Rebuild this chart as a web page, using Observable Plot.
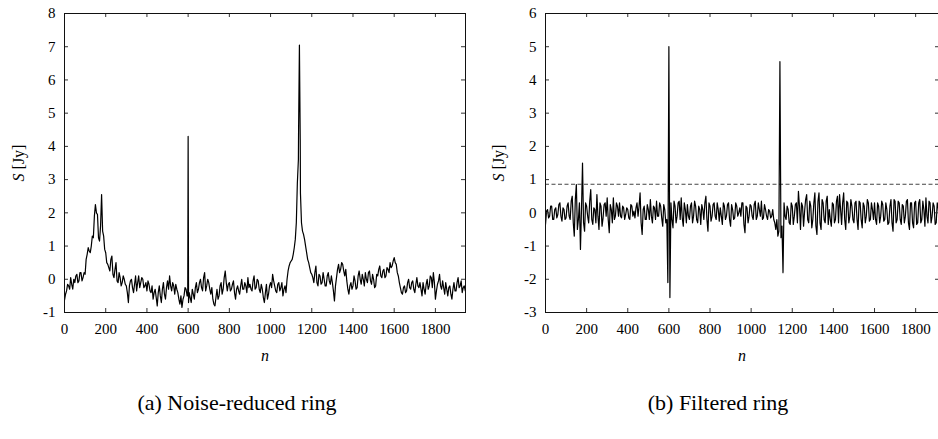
<!DOCTYPE html>
<html><head><meta charset="utf-8">
<script src="https://cdn.jsdelivr.net/npm/d3@7"></script>
<script src="https://cdn.jsdelivr.net/npm/@observablehq/plot@0.6"></script>
<style>
html body #wrap, html body #wrap *, html body #wrap svg text { font-family: 'Liberation Serif', 'Times New Roman', serif !important; }
</style>
</head><body style="margin:0;background:#fff;overflow:hidden;">
<div id="wrap" style="position:relative;width:938px;height:439px;overflow:hidden;background:#fff;"></div>
<script>
const step = 10; // spacing of the sampled n values (mid values sit half-way)
const leftValues = [
-0.63,-0.35,-0.2,0.05,-0.3,-0.1,0.15,-0.05,0.2,0.05,
0.15,0.75,0.85,1.0,1.25,2.25,1.95,1.15,2.55,1.3,
0.8,0.45,0.25,0.7,0.05,0.5,-0.1,0.05,-0.1,0.0,
-0.2,-0.7,-0.05,-0.25,-0.15,-0.35,0.1,-0.1,0.0,-0.2,
-0.35,-0.15,-0.4,-0.6,-0.3,-0.8,-0.2,-0.7,-0.1,-0.6,
-0.05,0.1,-0.35,-0.2,-0.15,-0.4,-0.75,-0.85,-0.5,-0.3,
4.3,-0.55,-0.3,-0.6,-0.1,-0.3,0.0,-0.35,0.2,-0.2,
-0.1,-0.45,-0.6,-0.8,-0.3,-0.5,-0.1,-0.3,0.25,-0.35,
-0.1,-0.3,-0.05,-0.6,-0.2,-0.45,0.0,-0.3,-0.2,0.05,
-0.15,-0.35,0.1,-0.25,-0.05,-0.4,-0.3,-0.7,-0.15,-0.45,
-0.1,0.15,-0.2,-0.4,-0.1,-0.25,-0.5,-0.2,0.0,0.4,
0.55,0.75,1.2,2.9,7.05,1.7,1.35,1.0,0.6,0.35,
0.15,-0.1,0.4,-0.2,0.1,-0.1,0.0,-0.2,0.2,-0.15,
-0.1,-0.65,0.05,0.45,0.3,0.45,0.1,-0.05,-0.45,-0.1,
-0.2,-0.05,-0.25,0.25,-0.15,0.0,0.2,-0.1,0.25,-0.15,
0.0,-0.2,0.1,0.4,0.05,0.3,0.1,0.3,0.5,0.4,
0.65,0.45,0.1,-0.25,-0.45,-0.2,-0.35,0.0,-0.3,-0.05,
-0.4,0.05,-0.25,-0.3,-0.1,-0.45,0.0,-0.2,0.05,0.2,
-0.6,-0.15,0.15,-0.3,-0.25,-0.1,-0.5,-0.2,-0.6,-0.1,
-0.35,0.05,-0.2,-0.4,-0.2
];
const leftMid = [
-0.45,-0.15,-0.3,-0.15,0.0,0.1,-0.1,0.2,-0.05,0.2,
0.6,0.95,0.8,1.3,1.9,2.0,1.25,1.6,1.45,0.9,
0.5,0.35,0.6,0.15,0.3,-0.05,0.2,-0.2,0.1,-0.15,
-0.4,-0.2,0.0,-0.4,0.1,-0.1,-0.25,0.05,-0.25,-0.1,
-0.05,-0.35,-0.2,-0.4,-0.55,-0.4,-0.5,-0.3,-0.45,-0.25,
-0.3,-0.2,-0.1,-0.45,-0.3,-0.6,-0.5,-0.6,-0.25,-0.5,
-0.4,-0.7,-0.45,-0.25,-0.4,-0.1,-0.25,0.05,-0.35,0.0,
-0.3,-0.25,-0.75,-0.55,-0.6,-0.2,-0.45,0.05,-0.1,-0.15,
-0.35,-0.15,-0.4,-0.3,-0.35,-0.2,-0.3,-0.1,-0.4,-0.25,
-0.3,-0.05,-0.3,0.0,-0.3,-0.15,-0.55,-0.4,-0.6,-0.2,
-0.25,-0.05,-0.35,-0.15,-0.35,-0.1,-0.3,-0.4,0.25,0.5,
0.6,0.95,1.7,3.6,2.6,1.45,1.2,0.8,0.5,0.2,
0.05,0.2,-0.1,0.15,-0.15,0.2,-0.2,0.1,-0.05,0.1,
-0.35,-0.2,0.3,0.2,0.5,0.25,0.3,-0.3,-0.2,-0.3,
0.1,-0.3,0.1,0.0,0.15,-0.2,0.0,0.2,-0.05,0.15,
-0.25,0.15,0.3,0.1,0.25,0.05,0.35,0.2,0.35,0.55,
0.5,0.2,-0.1,-0.4,-0.25,-0.4,-0.1,-0.25,-0.1,-0.3,
-0.15,-0.2,-0.1,-0.5,-0.3,-0.15,-0.3,0.1,-0.25,-0.1,
-0.35,-0.05,-0.2,-0.05,-0.45,-0.3,-0.25,-0.45,-0.3,-0.35,
-0.1,-0.25,-0.05,-0.25,-0.35
];
const leftSpikeN = [598, 602, 1136, 1144];
const leftSpikeS = [-0.5, -0.7, 4.5, 4.2];

const rightValues = [
-0.35,0.1,-0.1,0.2,-0.2,0.15,-0.05,0.3,-0.25,0.1,
-0.15,0.3,-0.2,0.5,-0.7,0.85,-0.2,-1.1,1.5,-0.55,
0.2,-0.3,0.7,-0.35,0.1,0.55,-0.5,0.2,-0.15,0.3,
0.45,-0.6,0.1,0.45,-0.1,0.2,0.3,-0.15,0.15,-0.05,
0.1,-0.2,0.2,0.05,0.15,-0.1,0.6,-0.65,0.2,-0.2,
0.1,0.4,-0.3,0.15,0.35,-0.1,0.2,-0.4,0.1,-0.2,
5.0,0.3,-0.45,0.2,-0.1,0.35,0.45,-0.4,0.1,0.25,
-0.2,0.3,-0.1,0.2,-0.3,0.1,0.25,-0.2,0.5,-0.55,
0.2,-0.1,0.3,-0.2,0.1,0.15,-0.35,0.2,-0.1,0.3,
-0.4,0.1,-0.15,0.2,0.0,-0.1,0.3,-0.6,0.15,-0.1,
0.2,-0.2,0.35,-0.1,0.1,0.35,-0.15,0.1,-0.2,0.05,
-0.1,-0.2,-0.5,-0.7,4.55,-0.4,0.3,-0.2,0.1,-0.35,
0.2,-0.1,0.3,0.65,-0.5,0.2,0.05,0.55,-0.3,0.2,
-0.2,0.6,-0.65,0.6,-0.5,0.3,-0.3,0.5,0.1,-0.4,
0.25,-0.2,0.5,0.55,-0.35,0.6,-0.5,0.3,-0.1,0.2,
-0.3,0.35,-0.5,0.3,-0.45,0.2,-0.1,0.3,-0.2,0.1,
0.3,-0.35,0.2,-0.1,0.25,-0.2,0.1,-0.3,0.4,-0.55,
0.35,-0.2,0.3,-0.35,0.2,-0.1,0.4,-0.5,0.3,-0.45,
0.35,-0.3,0.4,-0.2,0.1,0.45,-0.3,0.3,-0.1,0.2,
-0.3,0.15,-0.2,0.1,-0.1
];
const rightMid = [
0.05,-0.15,0.2,-0.2,0.1,-0.15,0.25,-0.1,0.15,-0.2,
0.2,-0.1,0.35,-0.3,0.4,-0.5,0.3,0.1,-0.3,0.3,
-0.1,0.35,-0.2,0.15,-0.3,-0.1,0.3,-0.4,0.25,-0.1,
-0.2,0.25,-0.3,-0.2,0.3,-0.1,-0.1,0.2,-0.2,0.15,
-0.15,0.25,-0.1,-0.15,0.3,0.2,-0.3,0.1,-0.2,0.25,
-0.2,-0.1,0.2,-0.2,-0.1,0.3,-0.15,0.25,-0.3,-2.1,
-2.55,-0.2,0.35,-0.3,0.3,-0.2,-0.15,0.3,-0.3,-0.1,
0.2,-0.3,0.35,-0.2,0.2,-0.35,0.1,0.3,-0.2,0.3,
-0.25,0.25,-0.1,0.3,-0.25,-0.1,0.3,-0.2,0.25,-0.2,
0.25,-0.2,0.3,-0.1,0.15,0.3,-0.35,0.2,-0.3,0.25,
-0.1,0.25,-0.2,0.3,-0.1,-0.2,0.25,-0.1,0.1,-0.15,
0.1,-0.3,-0.2,-0.55,-0.75,-1.8,-0.1,0.2,-0.3,0.3,
-0.35,0.25,-0.3,0.2,0.3,-0.4,0.4,-0.2,0.35,-0.45,
0.3,-0.4,0.35,-0.3,0.4,-0.2,0.35,-0.35,-0.2,0.3,
-0.3,0.35,-0.3,0.1,0.3,-0.2,0.35,-0.3,0.4,-0.2,
0.3,-0.2,0.35,-0.2,0.3,-0.3,0.4,-0.25,0.3,-0.2,
-0.2,0.3,-0.3,0.35,-0.25,0.3,-0.35,0.2,-0.3,0.4,
-0.3,0.35,-0.2,0.25,-0.3,0.35,-0.3,0.3,-0.3,0.3,
-0.35,0.3,-0.3,0.35,-0.4,-0.1,0.35,-0.3,0.3,-0.35,
0.3,-0.3,0.25,-0.2,0.2
];
const rightSpikeN = [];
const rightSpikeS = [];

const threshold = 0.86;
const xTicks = [0,200,400,600,800,1000,1200,1400,1600,1800];
const leftYTicks = [-1,0,1,2,3,4,5,6,7,8];
const rightYTicks = [-3,-2,-1,0,1,2,3,4,5,6];

function series(values, mid, spikeN, spikeS) {
  const pts = values.map((s, i) => ({n: i * step, s}));
  mid.forEach((s, i) => pts.push({n: i * step + step / 2, s}));
  spikeN.forEach((n, i) => pts.push({n, s: spikeS[i]}));
  return pts.sort((a, b) => a.n - b.n);
}

const H = 345, mTop = 13, mBottom = 33;
const FH = H - mTop - mBottom;
const FONT = "'Liberation Serif', 'Times New Roman', serif";

function panel({data, xDomain, yDomain, yTicks, width, marginLeft, marginRight, extra = []}) {
  const FW = width - marginLeft - marginRight;
  const svg = Plot.plot({
    width, height: H, marginTop: mTop, marginBottom: mBottom, marginLeft, marginRight,
    x: {domain: xDomain, label: null},
    y: {domain: yDomain, label: null},
    style: {fontFamily: FONT, fontSize: "15px", background: "transparent", color: "#000", overflow: "visible"},
    marks: [
      ...extra,
      Plot.line(data, {x: "n", y: "s", stroke: "#000", strokeWidth: 1.2, clip: true}),
      Plot.tickX(xTicks, {x: d => d, insetTop: FH - 4, stroke: "#333"}),
      Plot.tickX(xTicks, {x: d => d, insetBottom: FH - 4, stroke: "#333"}),
      Plot.tickY(yTicks, {y: d => d, insetRight: FW - 4, stroke: "#333"}),
      Plot.tickY(yTicks, {y: d => d, insetLeft: FW - 4, stroke: "#333"}),
      Plot.frame({stroke: "#111"}),
      Plot.axisX({ticks: xTicks, tickSize: 0, tickPadding: 11, label: null, tickFormat: d => String(d), fontFamily: FONT, fontSize: 15}),
      Plot.axisY({ticks: yTicks, tickSize: 0, tickPadding: 9, label: null, tickFormat: d => String(d), fontFamily: FONT, fontSize: 15})
    ]
  });
  svg.querySelectorAll("text, g").forEach(t => { t.setAttribute("font-family", FONT); t.style.setProperty("font-family", FONT, "important"); });
  svg.style.setProperty("font-family", FONT, "important");
  return svg;
}

const wrap = document.getElementById("wrap");

const left = panel({
  data: series(leftValues, leftMid, leftSpikeN, leftSpikeS),
  xDomain: [0, 1946], yDomain: [-1, 8], yTicks: leftYTicks,
  width: 470, marginLeft: 64, marginRight: 5
});
left.style.position = "absolute"; left.style.top = "0px"; left.style.left = "0px";
wrap.appendChild(left);

const right = panel({
  data: series(rightValues, rightMid, rightSpikeN, rightSpikeS),
  xDomain: [0, 1916], yDomain: [-3, 6], yTicks: rightYTicks,
  width: 475, marginLeft: 75, marginRight: 6,
  extra: [Plot.ruleY([threshold], {stroke: "#444", strokeWidth: 1, strokeDasharray: "4,2.5"})]
});
right.style.position = "absolute"; right.style.top = "0px"; right.style.left = "470px";
wrap.appendChild(right);

function addDiv(html, x, css) {
  const d = document.createElement("div");
  d.innerHTML = html;
  d.setAttribute("style", "position:absolute;white-space:nowrap;color:#000;left:" + x + "px;" + css);
  d.style.setProperty("font-family", FONT, "important");
  wrap.appendChild(d);
}
const yl = "font-size:16px;line-height:16px;top:155px;transform:translateX(-50%) rotate(-90deg);";
const xl = "font-style:italic;font-size:16px;line-height:16px;top:348px;transform:translateX(-50%);";
const cap = "font-size:22px;line-height:22px;top:392px;transform:translateX(-50%);";
addDiv("<i>S</i> [Jy]", 19, yl);
addDiv("<i>S</i> [Jy]", 499, yl);
addDiv("n", 265, xl);
addDiv("n", 742, xl);
addDiv("(a) Noise-reduced ring", 237, cap);
addDiv("(b) Filtered ring", 718, cap);
</script>
</body></html>
